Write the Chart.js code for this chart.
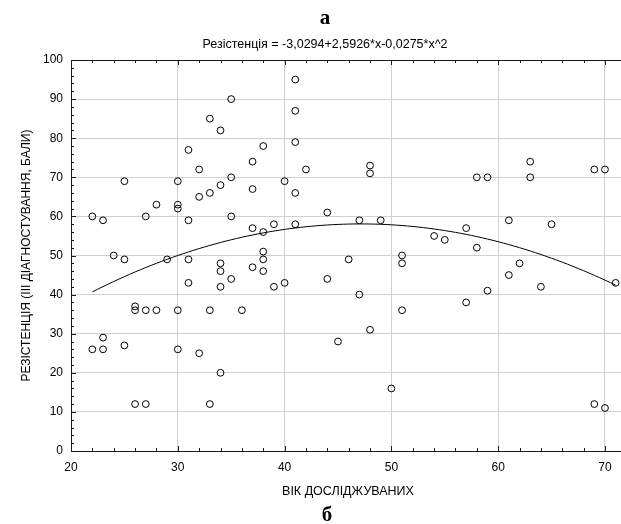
<!DOCTYPE html>
<html>
<head>
<meta charset="utf-8">
<script src="https://cdn.jsdelivr.net/npm/chart.js@4/dist/chart.umd.min.js"></script>
<style>
  html, body { margin: 0; padding: 0; background: #fff; }
  canvas { display: block; }
</style>
</head>
<body>
<canvas id="chart" width="621" height="524"></canvas>
<script>
// Age of each participant (x) and resistance score at the 3rd assessment (y)
const ages = [
  22, 23, 22, 23, 23, 24, 25, 25, 25, 26, 26, 26, 27, 27, 27, 28, 28, 29,
  30, 30, 30, 30, 30, 31, 31, 31, 31, 32, 32, 32, 33, 33, 33, 33,
  34, 34, 34, 34, 34, 34, 35, 35, 35, 35, 36, 37, 37, 37, 37,
  38, 38, 38, 38, 38, 39, 39, 40, 40, 41, 41, 41, 41, 41, 42,
  44, 44, 45, 46, 47, 47, 48, 48, 48, 49, 50, 51, 51, 51,
  54, 55, 57, 57, 58, 58, 59, 59, 61, 61, 62, 63, 63, 64, 65,
  69, 69, 70, 70, 71
];
const resistance = [
  60, 59, 26, 26, 29, 50, 69, 49, 27, 37, 36, 12, 60, 36, 12, 63, 36, 49,
  69, 63, 62, 36, 26, 77, 59, 49, 43, 72, 65, 25, 85, 66, 36, 12,
  82, 68, 48, 46, 42, 20, 90, 70, 60, 44, 36, 74, 67, 57, 47,
  78, 56, 51, 49, 46, 58, 42, 69, 43, 95, 87, 79, 66, 58, 72,
  61, 44, 28, 49, 59, 40, 73, 71, 31, 59, 16, 50, 48, 36,
  55, 54, 57, 38, 70, 52, 70, 41, 59, 45, 48, 74, 70, 42, 58,
  72, 12, 72, 11, 43
];

// Quadratic fit: Резістенція = b0 + b1*x + b2*x^2
const fitCoefficients = [-3.0294, 2.5926, -0.0275];
const fitRange = [22, 71];

const xTicks = [20, 30, 40, 50, 60, 70];
const yTicks = [0, 10, 20, 30, 40, 50, 60, 70, 80, 90, 100];

const panelTop = 'а';
const panelBottom = 'б';
const fitTitle = 'Резістенція = -3,0294+2,5926*x-0,0275*x^2';
const xTitle = 'ВІК ДОСЛІДЖУВАНИХ';
const yTitle = 'РЕЗІСТЕНЦІЯ (ІІІ ДІАГНОСТУВАННЯ, БАЛИ)';

const points = ages.map((a, i) => ({ x: a, y: resistance[i] }));

const fitPoints = [];
for (let x = fitRange[0]; x <= fitRange[1] + 1e-9; x += 0.5) {
  const [b0, b1, b2] = fitCoefficients;
  fitPoints.push({ x, y: b0 + b1 * x + b2 * x * x });
}

const SANS = '"Liberation Sans", Arial, sans-serif';
const SERIF = '"Liberation Serif", "Times New Roman", serif';

// Frame lines, inward tick marks and the free-standing captions
const framePlugin = {
  id: 'frame',
  afterDraw(chart) {
    const { ctx, chartArea: a, scales } = chart;
    const xs = scales.x, ys = scales.y;
    ctx.save();
    ctx.strokeStyle = '#1a1a1a';
    ctx.lineWidth = 1;
    ctx.beginPath();
    ctx.moveTo(a.left + 0.5, a.top + 0.5);
    ctx.lineTo(a.left + 0.5, a.bottom + 0.5);
    ctx.lineTo(a.right, a.bottom + 0.5);
    ctx.moveTo(a.left + 0.5, a.top + 0.5);
    ctx.lineTo(a.right, a.top + 0.5);
    // x ticks every 2 units, bottom and top
    for (let v = 20; v <= xs.max; v += 2) {
      const px = Math.round(xs.getPixelForValue(v)) + 0.5;
      const len = (v % 10 === 0) ? 5 : 3;
      ctx.moveTo(px, a.bottom);
      ctx.lineTo(px, a.bottom - len);
      ctx.moveTo(px, a.top);
      ctx.lineTo(px, a.top + len);
    }
    // y ticks every 2 units on the left
    for (let v = 0; v <= 100; v += 2) {
      const py = Math.round(ys.getPixelForValue(v)) + 0.5;
      const len = (v % 10 === 0) ? 5 : 3;
      ctx.moveTo(a.left, py);
      ctx.lineTo(a.left + len, py);
    }
    ctx.stroke();

    ctx.fillStyle = '#000';
    ctx.textAlign = 'center';
    ctx.textBaseline = 'alphabetic';
    ctx.font = 'bold 21px ' + SERIF;
    ctx.fillText(panelTop, 325, 24);
    ctx.fillText(panelBottom, 327, 521);
    ctx.font = '12.5px ' + SANS;
    ctx.fillText(fitTitle, 325, 48);
    ctx.fillText(xTitle, 348, 495);
    ctx.restore();
  }
};

const gridColor = (min, max) => (c) =>
  (c.tick && (c.tick.value === min || c.tick.value === max)) ? 'rgba(0,0,0,0)' : '#d0d0d0';

new Chart(document.getElementById('chart'), {
  type: 'scatter',
  data: {
    datasets: [
      {
        label: 'fit',
        type: 'line',
        data: fitPoints,
        borderColor: '#000',
        borderWidth: 1,
        pointRadius: 0,
        fill: false,
        tension: 0,
        order: 1
      },
      {
        label: 'points',
        data: points,
        pointStyle: 'circle',
        pointRadius: 3.4,
        pointBorderWidth: 1,
        pointBorderColor: '#000',
        pointBackgroundColor: 'rgba(255,255,255,0)',
        order: 2
      }
    ]
  },
  options: {
    responsive: false,
    animation: false,
    events: [],
    layout: { autoPadding: false, padding: { top: 60, right: 0, bottom: 0, left: 0 } },
    plugins: {
      legend: { display: false },
      tooltip: { enabled: false },
      title: { display: false }
    },
    scales: {
      x: {
        type: 'linear',
        min: 20,
        max: 71.5,
        afterFit: (s) => { s.height = 73; },
        afterBuildTicks: (s) => { s.ticks = xTicks.map(v => ({ value: v })); },
        border: { display: false },
        grid: { color: gridColor(20, 71.5), drawTicks: false, lineWidth: 1 },
        ticks: {
          padding: 9,
          color: '#000',
          font: { family: SANS, size: 12 },
          maxRotation: 0
        }
      },
      y: {
        type: 'linear',
        min: 0,
        max: 100,
        afterFit: (s) => { s.width = 71; },
        afterBuildTicks: (s) => { s.ticks = yTicks.map(v => ({ value: v })); },
        border: { display: false },
        grid: { color: gridColor(0, 100), drawTicks: false, lineWidth: 1 },
        ticks: {
          padding: 8,
          color: '#000',
          font: { family: SANS, size: 12 }
        },
        title: {
          display: true,
          text: yTitle,
          color: '#000',
          font: { family: SANS, size: 12 },
          padding: { top: 19, bottom: 0 }
        }
      }
    }
  },
  plugins: [framePlugin]
});
</script>
</body>
</html>
